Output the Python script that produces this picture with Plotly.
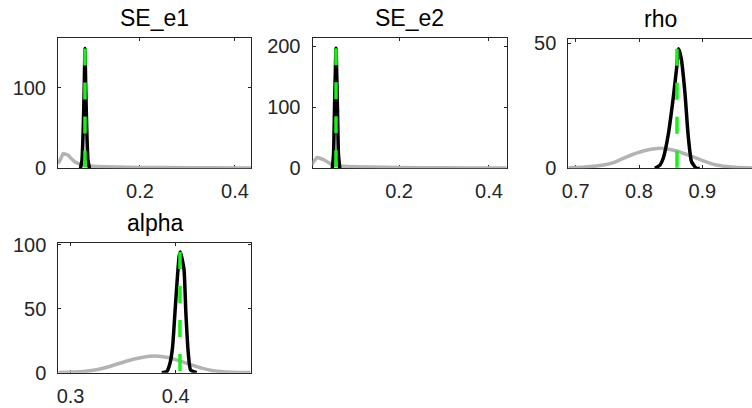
import plotly.graph_objects as go

W, H = 752, 408

# ---- SE_e1 ----
se_e1_prior_x = [0.0274, 0.0326, 0.0385, 0.0442, 0.049, 0.0568, 0.0632, 0.0737, 0.0878, 0.1017, 0.151, 0.2, 0.3, 0.4, 0.4337]
se_e1_prior_y = [5.8, 11.0, 18.2, 17.0, 16.0, 11.0, 7.8, 5.0, 3.3, 2.5, 1.6, 1.0, 0.6, 0.4, 0.35]
se_e1_post_x = [0.0747, 0.0779, 0.0804, 0.0825, 0.0842, 0.0859, 0.088, 0.0905, 0.0937]
se_e1_post_y = [0.0, 10.0, 47.0, 97.0, 148.3, 97.0, 47.0, 10.0, 0.0]
se_e1_mode = 0.0842

# ---- SE_e2 ----
se_e2_prior_x = [0.0051, 0.0112, 0.0185, 0.0261, 0.0335, 0.0485, 0.0597, 0.0708, 0.1044, 0.1379, 0.2, 0.3, 0.4, 0.4395]
se_e2_prior_y = [5.4, 12.0, 17.7, 16.0, 13.6, 7.0, 4.5, 3.7, 2.5, 2.0, 1.3, 0.8, 0.5, 0.45]
se_e2_post_x = [0.0514, 0.0541, 0.0563, 0.0597, 0.063, 0.0652, 0.0681]
se_e2_post_y = [0.0, 22.0, 96.0, 196.7, 96.0, 22.0, 0.0]
se_e2_mode = 0.0597

# ---- rho ----
rho_prior_x = [0.6883, 0.715, 0.7438, 0.762, 0.7806, 0.8068, 0.833, 0.8594, 0.8855, 0.904, 0.9224, 0.951, 0.9785]
rho_prior_y = [0.2, 0.5, 1.3, 2.5, 4.6, 6.9, 8.0, 6.9, 4.6, 2.8, 1.3, 0.4, 0.1]
rho_post_x = [0.8252, 0.8331, 0.8383, 0.8461, 0.854, 0.8594, 0.8625, 0.8666, 0.8724, 0.8776, 0.883, 0.8909, 0.896]
rho_post_y = [0.0, 1.3, 4.0, 13.3, 28.0, 40.0, 47.7, 44.0, 30.6, 13.3, 2.6, 0.0, 0.0]
rho_mode = 0.860

# ---- alpha ----
alpha_prior_x = [0.2883, 0.3042, 0.3184, 0.331, 0.3438, 0.3596, 0.3787, 0.388, 0.3977, 0.4136, 0.4248, 0.4358, 0.4517, 0.4714]
alpha_prior_y = [0.2, 0.5, 1.5, 3.5, 6.6, 10.5, 13.0, 12.5, 10.8, 6.5, 3.6, 1.6, 0.4, 0.1]
alpha_post_x = [0.3867, 0.3914, 0.3946, 0.3971, 0.3993, 0.4015, 0.4034, 0.4045, 0.4079, 0.4097, 0.412, 0.4142, 0.42]
alpha_post_y = [0.0, 0.8, 7.4, 20.5, 46.8, 73.0, 91.5, 94.2, 81.0, 46.8, 15.3, 2.1, 0.0]
alpha_mode = 0.4041

names = ["SE_e1", "SE_e2", "rho", "alpha"]
priors = [(se_e1_prior_x, se_e1_prior_y), (se_e2_prior_x, se_e2_prior_y),
          (rho_prior_x, rho_prior_y), (alpha_prior_x, alpha_prior_y)]
posts = [(se_e1_post_x, se_e1_post_y), (se_e2_post_x, se_e2_post_y),
         (rho_post_x, rho_post_y), (alpha_post_x, alpha_post_y)]
modes = [se_e1_mode, se_e2_mode, rho_mode, alpha_mode]

# axis limits and tick spacing per panel
x_ranges = [[0.0274, 0.4337], [0.0074, 0.4395], [0.6883, 0.9785], [0.2883, 0.4714]]
y_ranges = [[0, 161], [0, 213], [0, 51.7], [0, 101.7]]
x_dticks = [0.2, 0.2, 0.1, 0.1]
y_dticks = [100, 100, 50, 50]

# panel boxes in pixels: left, right, top, bottom
boxes = [(58, 251, 38.3, 168.2), (312.5, 506.7, 38.3, 168.3),
         (568.3, 752, 38.8, 168.3), (58.3, 250.7, 242.5, 372.7)]

PRIOR_C = "#b3b3b3"
POST_C = "#000000"
MODE_C = "#19f019"
AX_C = "#262626"
FONT = "Liberation Sans, Arial, sans-serif"

fig = go.Figure()
layout = dict(
    width=W, height=H,
    margin=dict(l=0, r=0, t=0, b=0, pad=0, autoexpand=False),
    paper_bgcolor="white", plot_bgcolor="white",
    showlegend=False,
    annotations=[],
)

for i in range(4):
    k = "" if i == 0 else str(i + 1)
    xa, ya = "x" + k, "y" + k
    px, py = priors[i]
    qx, qy = posts[i]
    fig.add_trace(go.Scatter(x=px, y=py, mode="lines", xaxis=xa, yaxis=ya,
                             line=dict(color=PRIOR_C, width=3.5, shape="spline", smoothing=0.6)))
    fig.add_trace(go.Scatter(x=qx, y=qy, mode="lines", xaxis=xa, yaxis=ya,
                             line=dict(color=POST_C, width=3.5, shape="spline", smoothing=0.5)))
    top = max(qy)
    fig.add_trace(go.Scatter(x=[modes[i], modes[i]], y=[top, 0], mode="lines", xaxis=xa, yaxis=ya,
                             line=dict(color=MODE_C, width=3.5, dash="17px,17px")))

    l, r, t, b = boxes[i]
    common = dict(showline=True, linecolor=AX_C, linewidth=1, ticks="inside", ticklen=3,
                  tickcolor=AX_C, showgrid=False, zeroline=False, layer="below traces",
                  automargin=False,
                  tickfont=dict(family=FONT, size=20, color=AX_C))
    layout["xaxis" + k] = dict(common, domain=[l / W, r / W], range=x_ranges[i],
                               tick0=0, dtick=x_dticks[i], anchor=ya, mirror="ticks",
                               ticklabelstandoff=5)
    layout["yaxis" + k] = dict(common, domain=[1 - b / H, 1 - t / H], range=y_ranges[i],
                               tick0=0, dtick=y_dticks[i], anchor=xa,
                               mirror=("ticks" if i != 2 else False),
                               ticklabelstandoff=7)
    layout["annotations"].append(dict(
        text=names[i], x=(l + min(r, l + 193)) / 2 / W, y=1 - (t - 5) / H,
        xref="paper", yref="paper", xanchor="center", yanchor="bottom",
        showarrow=False, font=dict(family=FONT, size=23, color="#000000")))

fig.update_layout(**layout)
fig.write_html("out.html")
